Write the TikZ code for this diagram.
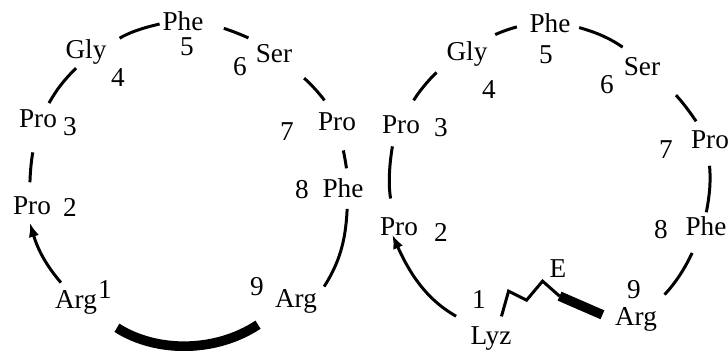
\documentclass[tikz,border=0pt]{standalone}
\usepackage{fontspec}
\setmainfont{Liberation Serif}
\usetikzlibrary{arrows.meta}
\newcommand{\ringfont}{\fontsize{15.5}{17}\selectfont}
\tikzset{
  res/.style={font=\ringfont, inner sep=1.5pt, text height=10.5pt, text depth=3pt},
  idx/.style={font=\ringfont, inner sep=1pt},
  link/.style={line width=1.7pt},
  cut/.style={line width=5.5pt},
  linkarrow/.style={link, -{Latex[length=8pt,width=6pt]}},
}

\begin{document}
\begin{tikzpicture}[x=0.02cm, y=-0.02cm]
\useasboundingbox (0,0) rectangle (728,351);

% Nodes, left ring
\node[res] (l1) at (76,302) {Arg};
\node[res] (l2) at (32,208) {Pro};
\node[res] (l3) at (38,121) {Pro};
\node[res] (l4) at (86,52) {Gly};
\node[res] (l5) at (183,24) {Phe};
\node[res] (l6) at (274,56) {Ser};
\node[res] (l7) at (337,124) {Pro};
\node[res] (l8) at (343,191) {Phe};
\node[res] (l9) at (296,301) {Arg};
\node[idx] (ln1) at (105,290) {1};
\node[idx] (ln2) at (70,207) {2};
\node[idx] (ln3) at (70,127) {3};
\node[idx] (ln4) at (118,78) {4};
\node[idx] (ln5) at (187,47) {5};
\node[idx] (ln6) at (240,67) {6};
\node[idx] (ln7) at (287,132) {7};
\node[idx] (ln8) at (302,190) {8};
\node[idx] (ln9) at (257,287) {9};

% Nodes, right ring
\node[res] (r1) at (491,338) {Lyz};
\node[res] (r2) at (399,229) {Pro};
\node[res] (r3) at (401,127) {Pro};
\node[res] (r4) at (467,54) {Gly};
\node[res] (r5) at (550,26) {Phe};
\node[res] (r6) at (642,69) {Ser};
\node[res] (r7) at (710,142) {Pro};
\node[res] (r8) at (706,229) {Phe};
\node[res] (r9) at (636,319) {Arg};
\node[idx] (rn1) at (479,300) {1};
\node[idx] (rn2) at (441,232) {2};
\node[idx] (rn3) at (441,128) {3};
\node[idx] (rn4) at (489,90) {4};
\node[idx] (rn5) at (546,55) {5};
\node[idx] (rn6) at (607,85) {6};
\node[idx] (rn7) at (666,150) {7};
\node[idx] (rn8) at (661,230) {8};
\node[idx] (rn9) at (634,290) {9};
\node[idx] (rE) at (558,269) {E};

% Edges, left ring
\draw[link, shorten <=6.8pt] (l4.18) to[bend left=9] (l5.180);
\draw[link, shorten <=10.2pt, shorten >=4.5pt] (l5.0) to[bend left=5] (l6.141);
\draw[link, shorten <=6.8pt, shorten >=6.2pt] (l6.-34) to[bend left=6] (l7.112);
\draw[link, shorten <=6.8pt, shorten >=4.5pt] (l7.-77) to[bend left=3] (l8.73);
\draw[link, shorten <=1.7pt, shorten >=4.5pt] (l8.-74) to[bend left=15] (l9.18);
\draw[cut, shorten <=9.6pt, shorten >=11.6pt] (l9.211) to[bend left=33] (l1.-32);
\draw[linkarrow, shorten <=3.4pt] (l1.127) to[bend left=12] (l2.-98);
\draw[link, shorten <=6.2pt, shorten >=9.6pt] (l2.99) to[bend left=5] (l3.-97);
\draw[link, shorten <=2pt, shorten >=1.1pt] (l3.58) to[bend left=8] (l4.240);

% Edges, right ring
\draw[link, shorten <=6.2pt, shorten >=5.7pt] (r4.39) to[bend left=5] (r5.176);
\draw[link, shorten <=3.4pt, shorten >=6.8pt] (r5.0) to[bend left=10] (r6.123);
\draw[link, shorten <=10.2pt, shorten >=4pt] (r6.-33) to[bend left=6] (r7.124);
\draw[link, shorten <=5.1pt, shorten >=1.1pt] (r7.-95) to[bend left=8] (r8.90);
\draw[link, shorten <=5.7pt, shorten >=7.4pt] (r8.237) to[bend left=9] (r9.37);
\draw[linkarrow, shorten <=7.9pt, shorten >=-5.7pt] (r1.147) to[bend left=18] (r2.-100);
\draw[link, shorten <=9pt, shorten >=2.6pt] (r2.112) to[bend left=9] (r3.242);
\draw[link, shorten <=7.9pt, shorten >=5.7pt] (r3.70) to[bend left=7] (r4.206);

% zigzag cut between Lyz and Arg
\draw[link, shorten <=4pt] (r1.60) -- ++(9,-32) -- ++(18,9) -- ++(16,-19) -- ++(17,15) coordinate (rk);
\draw[cut, shorten >=6pt] (rk) -- (r9.west);
\end{tikzpicture}
\end{document}
